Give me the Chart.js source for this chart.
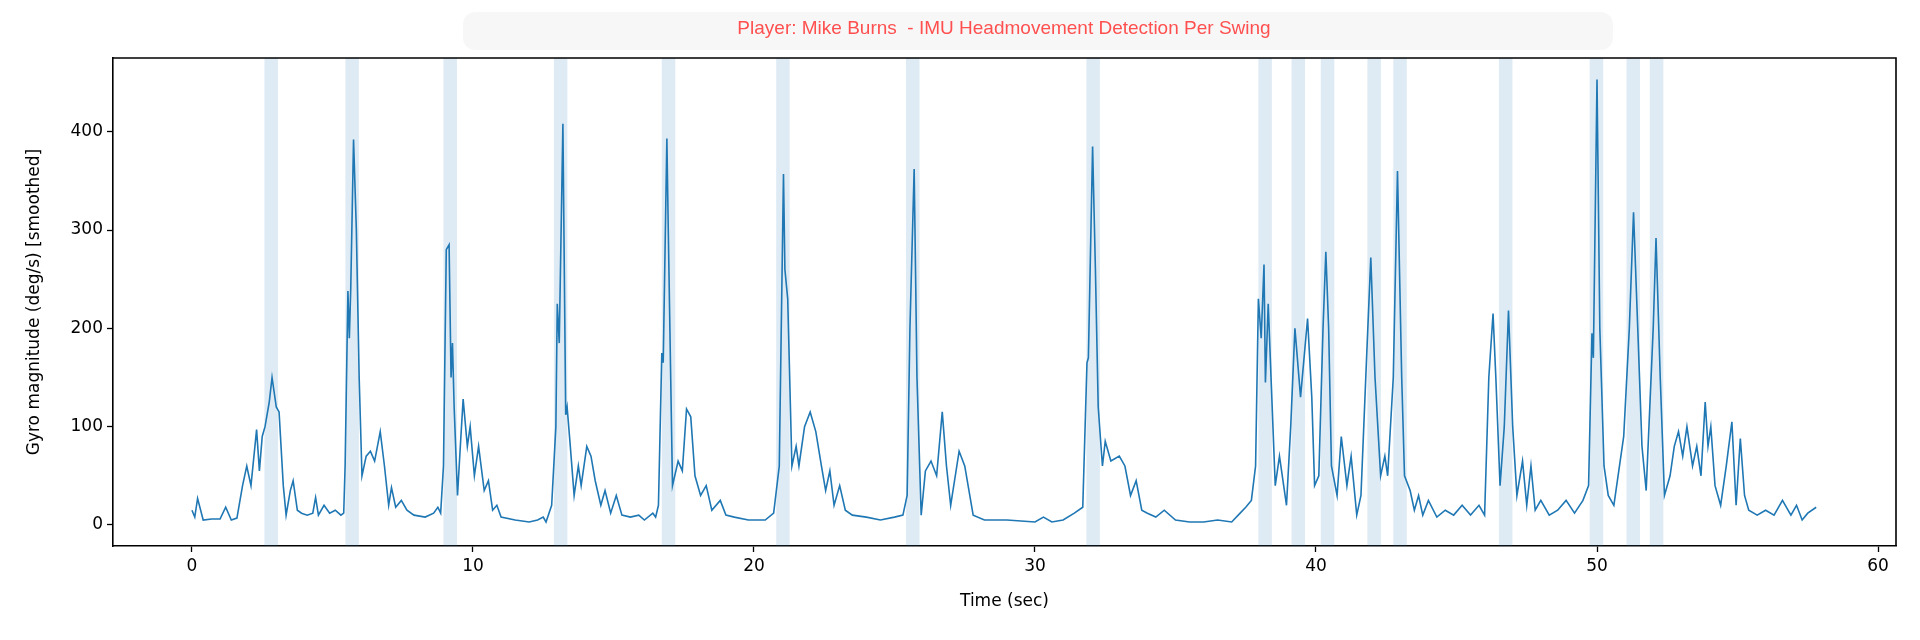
<!DOCTYPE html>
<html><head><meta charset="utf-8">
<script src="https://cdn.jsdelivr.net/npm/chart.js@4"></script>
<style>html,body{margin:0;padding:0;background:#fff}#wrap{width:1920px;height:640px}</style>
</head><body><div id="wrap"><canvas id="c" width="1920" height="640"></canvas></div>
<script>
const times = [0,0.1,0.2,0.4,0.7,1.0,1.2,1.4,1.6,1.8,1.95,2.1,2.3,2.4,2.5,2.6,2.75,2.85,3.0,3.1,3.25,3.35,3.5,3.6,3.75,3.9,4.1,4.3,4.4,4.5,4.7,4.9,5.1,5.3,5.4,5.45,5.55,5.6,5.65,5.75,5.85,5.95,6.05,6.2,6.35,6.5,6.7,6.85,7.0,7.1,7.25,7.45,7.65,7.9,8.3,8.6,8.75,8.85,8.95,9.05,9.15,9.22,9.27,9.33,9.45,9.55,9.65,9.8,9.9,10.05,10.2,10.4,10.55,10.7,10.85,11.0,11.5,12.0,12.3,12.5,12.6,12.8,12.95,13.0,13.07,13.2,13.3,13.35,13.45,13.6,13.75,13.85,14.05,14.2,14.35,14.55,14.7,14.9,15.1,15.3,15.6,15.9,16.1,16.4,16.5,16.6,16.72,16.77,16.9,16.95,17.1,17.3,17.45,17.6,17.75,17.9,18.1,18.3,18.5,18.8,19.0,19.3,19.8,20.4,20.7,20.9,21.05,21.1,21.2,21.35,21.5,21.6,21.8,22.0,22.2,22.4,22.55,22.7,22.85,23.05,23.25,23.5,24.0,24.5,25.0,25.3,25.45,25.55,25.7,25.8,25.95,26.1,26.3,26.5,26.7,26.85,27.0,27.3,27.5,27.8,28.2,29.0,30.0,30.3,30.6,31.0,31.4,31.7,31.85,31.9,32.05,32.15,32.25,32.4,32.5,32.7,33.0,33.2,33.4,33.6,33.8,34.0,34.3,34.6,35.0,35.5,36.0,36.5,37.0,37.3,37.5,37.7,37.85,37.95,38.05,38.15,38.2,38.3,38.4,38.55,38.7,38.85,38.95,39.1,39.25,39.45,39.7,39.85,39.95,40.1,40.25,40.35,40.45,40.55,40.75,40.9,41.1,41.25,41.45,41.6,41.8,41.95,42.1,42.3,42.45,42.55,42.75,42.9,43.05,43.15,43.35,43.5,43.65,43.8,44.0,44.3,44.6,44.9,45.2,45.5,45.8,46.0,46.15,46.3,46.4,46.55,46.7,46.85,47.0,47.15,47.35,47.5,47.65,47.8,48.0,48.3,48.6,48.9,49.2,49.5,49.7,49.82,49.87,50.0,50.1,50.25,50.4,50.6,50.8,50.95,51.15,51.3,51.45,51.6,51.75,52.0,52.1,52.25,52.4,52.6,52.75,52.9,53.05,53.2,53.4,53.55,53.7,53.85,53.95,54.05,54.2,54.4,54.6,54.8,54.95,55.1,55.25,55.4,55.7,56.0,56.3,56.6,56.9,57.1,57.3,57.5,57.8];
const gyro = [15,8,27,5,6,6,18,5,7,40,60,40,97,55,90,100,125,150,120,115,40,10,35,45,15,12,10,12,28,10,20,12,15,10,12,60,238,190,240,392,300,150,50,70,75,65,95,60,20,38,18,25,15,10,8,12,18,12,60,280,285,150,185,120,30,80,128,80,100,50,80,35,45,15,20,8,5,3,5,8,3,20,100,225,185,408,112,120,85,30,60,40,80,70,45,20,35,12,30,10,8,10,5,12,8,20,175,165,393,300,40,65,55,118,110,50,30,40,15,25,10,8,5,5,12,60,357,260,230,60,80,60,100,115,95,60,35,55,20,40,15,10,8,5,8,10,30,200,362,150,10,55,65,50,115,60,20,75,60,10,5,5,3,8,3,5,12,18,165,170,385,260,120,60,85,65,70,60,30,45,15,12,8,15,5,3,3,5,3,12,18,25,60,230,190,265,145,225,150,40,70,40,20,100,200,130,210,130,40,50,200,278,200,60,30,90,40,70,10,30,170,272,150,50,70,50,150,360,150,50,35,15,30,10,25,8,15,10,20,10,20,10,150,215,150,40,100,218,100,30,65,20,60,15,25,10,15,25,12,25,40,195,170,453,200,60,30,20,60,90,200,318,200,80,35,200,292,150,30,50,80,95,70,100,60,80,50,125,80,100,40,20,60,105,20,88,30,15,10,15,10,25,10,20,5,12,18];
const bandStarts = [2.58,5.46,8.95,12.88,16.72,20.79,25.41,31.83,37.95,39.13,40.17,41.83,42.75,46.51,49.74,51.05,51.88];
const bandWidth = 0.48;
const xTicks = [0,10,20,30,40,50,60];
const yTicks = [0,100,200,300,400];
const titleText = 'Player: Mike Burns  - IMU Headmovement Detection Per Swing';

const points = times.map((t,i)=>({x:t,y:gyro[i]}));
const bandsPlugin = {
  id:'bands',
  beforeDatasetsDraw(chart){
    const {ctx,chartArea:a,scales:{x}} = chart;
    ctx.save();
    ctx.beginPath(); ctx.rect(a.left,a.top,a.right-a.left,a.bottom-a.top); ctx.clip();
    ctx.fillStyle='rgba(31,119,180,0.15)';
    bandStarts.forEach(s=>{
      const l=x.getPixelForValue(s), r=x.getPixelForValue(s+bandWidth);
      ctx.fillRect(l,a.top,r-l,a.bottom-a.top);
    });
    ctx.restore();
  },
  afterDraw(chart){
    const ctx=chart.ctx;
    ctx.save();
    ctx.fillStyle='rgba(0,0,0,0.03)';
    ctx.beginPath();
    if(ctx.roundRect) ctx.roundRect(463,12,1150,38,12); else ctx.rect(463,12,1150,38);
    ctx.fill();
    ctx.fillStyle='rgba(255,60,60,0.9)';
    ctx.font='19px "Liberation Sans", Arial, sans-serif';
    ctx.textAlign='center'; ctx.textBaseline='middle';
    ctx.fillText(titleText,1004,29);
    ctx.restore();
  }
};
new Chart(document.getElementById('c'),{
  type:'line',
  data:{datasets:[{data:points,borderColor:'#1f77b4',borderWidth:1.6,pointRadius:0,tension:0,fill:false}]},
  options:{
    responsive:false,animation:false,devicePixelRatio:1,
    layout:{padding:{top:58,right:24,left:24,bottom:28}},
    plugins:{legend:{display:false},tooltip:{enabled:false},title:{display:false}},
    scales:{
      x:{type:'linear',min:-2.81,max:60.64,
        afterBuildTicks(s){s.ticks=xTicks.map(v=>({value:v}));},
        afterFit(s){s.height=66;},
        grid:{drawOnChartArea:false,tickLength:6,tickColor:'#000',tickWidth:1.3},
        border:{color:'#000',width:1.6},
        ticks:{color:'#000',font:{family:'DejaVu Sans',size:17},padding:4,maxRotation:0},
        title:{display:true,text:'Time (sec)',color:'#000',font:{family:'DejaVu Sans',size:17},padding:{top:2,bottom:0}}},
      y:{min:-21.4,max:475,
        afterBuildTicks(s){s.ticks=yTicks.map(v=>({value:v}));},
        afterFit(s){s.width=89;},
        grid:{drawOnChartArea:false,tickLength:6,tickColor:'#000',tickWidth:1.3},
        border:{color:'#000',width:1.6},
        ticks:{color:'#000',font:{family:'DejaVu Sans',size:17},padding:4},
        title:{display:true,text:'Gyro magnitude (deg/s) [smoothed]',color:'#000',font:{family:'DejaVu Sans',size:17},padding:{top:0,bottom:0}}}
    }
  },
  plugins:[bandsPlugin,{id:'rightTop',afterDraw(chart){const {ctx,chartArea:a}=chart;ctx.save();ctx.strokeStyle='#000';ctx.lineWidth=1.6;ctx.beginPath();ctx.moveTo(a.left,a.top);ctx.lineTo(a.right,a.top);ctx.lineTo(a.right,a.bottom);ctx.stroke();ctx.restore();}}]
});
</script></body></html>
